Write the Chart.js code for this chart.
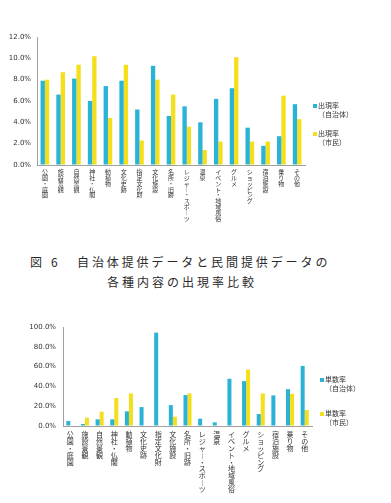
<!DOCTYPE html>
<html><head><meta charset="utf-8">
<script src="https://cdn.jsdelivr.net/npm/chart.js@4.4.0/dist/chart.umd.min.js"></script>
<style>
html,body{margin:0;padding:0;background:#fff;width:391px;height:503px;overflow:hidden;position:relative;font-family:"Noto Sans CJK JP",sans-serif;}
#c1{position:absolute;left:0;top:0;}
#c2{position:absolute;left:0;top:300px;}
.cap{position:absolute;font-size:12px;color:#2a2a2a;white-space:nowrap;line-height:14px;font-weight:400}
.leg{position:absolute;font-size:7px;color:#333;line-height:9px;white-space:nowrap}
.sw{position:absolute;width:4px;height:4px}
</style></head><body>
<canvas id="c1" width="310" height="250"></canvas>
<canvas id="c2" width="315" height="203"></canvas>
<div class="cap" style="left:30px;top:255px;">図</div>
<div class="cap" style="left:51px;top:255px;">6</div>
<div class="cap" style="left:77px;top:255px;letter-spacing:2.9px;">自治体提供データと民間提供データの</div>
<div class="cap" style="left:107px;top:275px;letter-spacing:3px;">各種内容の出現率比較</div>
<div id="legends"></div>
<script>
const categories = ['公園・庭園','施設景観','自然景観','神社・仏閣','動植物','文化史跡','指定文化財','文化施設','名所・旧跡','レジャー・スポーツ','温泉','イベント・地域風俗','グルメ','ショッピング','宿泊施設','乗り物','その他'];

const topSeriesNames = ['出現率（自治体）','出現率（市民）'];
const appearanceGov     = [7.9,6.6,8.1,6.0,7.4,7.9,5.2,9.3,4.6,5.5,4.0,6.2,7.2,3.5,1.8,2.7,5.7];
const appearanceCitizen = [8.0,8.7,9.4,10.2,4.4,9.4,2.3,8.0,6.6,3.6,1.4,2.2,10.1,2.2,2.2,6.5,4.3];
const topTicks = [0,2,4,6,8,10,12];

const bottomSeriesNames = ['単数率（自治体）','単数率（市民）'];
const singleGov     = [5.0,2.0,6.7,6.7,14.8,19.1,94.3,21.1,31.2,7.4,3.7,47.7,45.3,12.1,30.9,37.2,60.7];
const singleCitizen = [0,8.4,14.4,28.2,32.9,0,0,9.4,32.9,0,0,0,57.0,32.9,0,32.5,16.1];
const bottomTicks = [0,10,20,30,40,50,60,70,80,90,100];

const BLUE = '#2bb3d6';
const YELLOW = '#f5df1b';

function vertical(s){
  return Array.from(s).map(c => c === 'ー' ? '︱' : c);
}

function makeChart(id, ds1, ds2, names, ticks, cfg){
  return new Chart(document.getElementById(id), {
    type:'bar',
    data:{
      labels: categories,
      datasets:[
        {label:names[0], data:ds1, backgroundColor:BLUE, categoryPercentage:0.55, barPercentage:1},
        {label:names[1], data:ds2, backgroundColor:YELLOW, categoryPercentage:0.55, barPercentage:1}
      ]
    },
    options:{
      responsive:false, animation:false,
      layout:{padding:{top:cfg.padTop, right:cfg.padRight, left:0, bottom:0}},
      plugins:{legend:{display:false}, tooltip:{enabled:false}},
      scales:{
        x:{
          grid:{color:'rgba(0,0,0,0)', drawTicks:false},
          border:{display:true, color:'#a0a0a0', width:1},
          ticks:{autoSkip:false, maxRotation:0, minRotation:0, padding:cfg.xPad, color:'#333',
            font:{family:'"Noto Sans CJK JP"', size:cfg.xFont, lineHeight:cfg.xLH},
            callback:(v,i)=>vertical(categories[i])},
          afterFit:(s)=>{s.height = cfg.xHeight;}
        },
        y:{
          min:ticks[0], max:ticks[ticks.length-1],
          grid:{color:'rgba(0,0,0,0)', drawTicks:false},
          border:{display:true, color:'#a0a0a0', width:1},
          afterBuildTicks:(s)=>{s.ticks = ticks.map(v=>({value:v}));},
          ticks:{padding:cfg.yPad, color:'#333', font:{family:'"DejaVu Sans"', size:7},
            callback:(v)=>v.toFixed(1)+'%'},
          afterFit:(s)=>{s.width = cfg.yWidth;}
        }
      }
    }
  });
}

makeChart('c1', appearanceGov, appearanceCitizen, topSeriesNames, topTicks,
  {padTop:37, padRight:5, xHeight:85, yWidth:37, xPad:4, yPad:6, xFont:6, xLH:0.97});
makeChart('c2', singleGov, singleCitizen, bottomSeriesNames, bottomTicks,
  {padTop:27, padRight:3, xHeight:77, yWidth:63, xPad:5, yPad:7, xFont:7, xLH:0.98});

function legend(names, x, y1, y2){
  const cont = document.getElementById('legends');
  [[names[0],BLUE,y1],[names[1],YELLOW,y2]].forEach(([n,c,y])=>{
    const idx = n.indexOf('（');
    const sw = document.createElement('div');
    sw.className='sw'; sw.style.background=c; sw.style.left=x+'px'; sw.style.top=(y-2)+'px';
    cont.appendChild(sw);
    const t = document.createElement('div');
    t.className='leg'; t.style.left=(x+5)+'px'; t.style.top=(y-5)+'px';
    t.innerHTML = n.slice(0,idx) + '<br>' + n.slice(idx);
    cont.appendChild(t);
  });
}
legend(topSeriesNames, 313, 106, 134);
legend(bottomSeriesNames, 320, 380, 414);
</script>
</body></html>
